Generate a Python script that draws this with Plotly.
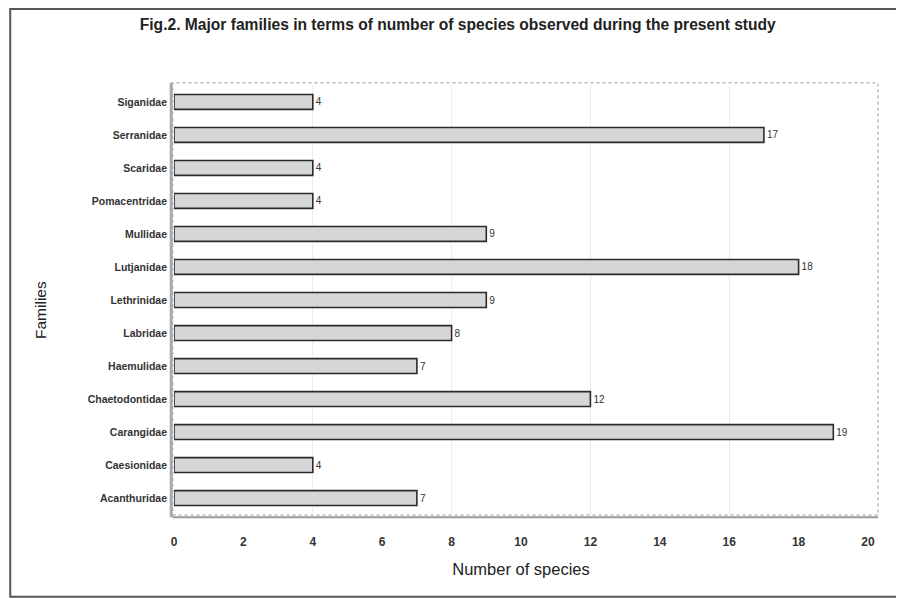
import plotly.graph_objects as go

families = ["Acanthuridae", "Caesionidae", "Carangidae", "Chaetodontidae", "Haemulidae",
            "Labridae", "Lethrinidae", "Lutjanidae", "Mullidae", "Pomacentridae",
            "Scaridae", "Serranidae", "Siganidae"]
species = [7, 4, 19, 12, 7, 8, 9, 18, 9, 4, 4, 17, 4]
x_ticks = [0, 2, 4, 6, 8, 10, 12, 14, 16, 18, 20]

FONT = "Liberation Sans, Arial, sans-serif"

fig = go.Figure()
fig.add_trace(go.Bar(
    y=families, x=species, orientation="h",
    marker=dict(color="#d6d6d6", line=dict(color="#2b2b2b", width=1.6)),
    width=0.45,
    text=[str(v) for v in species], textposition="outside",
    textfont=dict(family=FONT, size=10, color="#333"),
    cliponaxis=False,
))

fig.update_layout(
    width=896, height=591,
    margin=dict(l=166, r=36, t=77, b=84),
    paper_bgcolor="white", plot_bgcolor="white",
    showlegend=False,
    title=dict(text="<b>Fig.2. Major families in terms of number of species observed during the present study</b>",
               x=0.502, xanchor="center", y=0.972, yanchor="middle",
               font=dict(family=FONT, size=15.6, color="#222")),
    font=dict(family=FONT, color="#333"),
    xaxis=dict(range=[0, 20], tickvals=x_ticks, ticktext=["<b>%d</b>" % t for t in x_ticks],
               showgrid=False, zeroline=False, showline=False, ticks="",
               ticklabelstandoff=18,
               tickfont=dict(family=FONT, size=12, color="#333"),
               minor=dict(dtick=4, tick0=0, showgrid=True, gridcolor="#ececec", gridwidth=1),
               title=dict(text="Number of species", standoff=15,
                          font=dict(family=FONT, size=16.5, color="#222"))),
    yaxis=dict(categoryorder="array", categoryarray=families, range=[-0.515, 12.515],
               showgrid=False, zeroline=False, showline=False, ticks="",
               ticklabelstandoff=6,
               tickvals=families, ticktext=["<b>%s</b>" % f for f in families],
               tickfont=dict(family=FONT, size=10.5, color="#333")),
    bargap=0.5,
)

# y-axis title placed as an annotation to match position
fig.add_annotation(text="Families", xref="paper", yref="paper",
                   x=(40 - 174) / 694, y=(515 - 310) / 430, textangle=-90,
                   showarrow=False, xanchor="center", yanchor="middle",
                   font=dict(family=FONT, size=15.5, color="#222"))

# outer figure frame
fig.add_shape(type="rect", xref="paper", yref="paper",
              x0=-0.236, x1=1.0505, y0=-0.19, y1=1.177,
              line=dict(color="#555", width=2), layer="below")
# plot area frame (3D box outline)
fig.add_shape(type="rect", xref="paper", yref="paper",
              x0=-0.002, x1=1.0144, y0=0.0, y1=1.005,
              line=dict(color="#bbbbbb", width=1.5, dash="dot"), layer="below")
# floor / left wall
fig.add_shape(type="line", xref="paper", yref="paper", x0=-0.002, x1=1.0144, y0=-0.005, y1=-0.005,
              line=dict(color="#999", width=2))
fig.add_shape(type="line", xref="paper", yref="paper", x0=-0.004, x1=-0.004, y0=-0.005, y1=1.005,
              line=dict(color="#aaa", width=3))

fig.write_html("out.html")
